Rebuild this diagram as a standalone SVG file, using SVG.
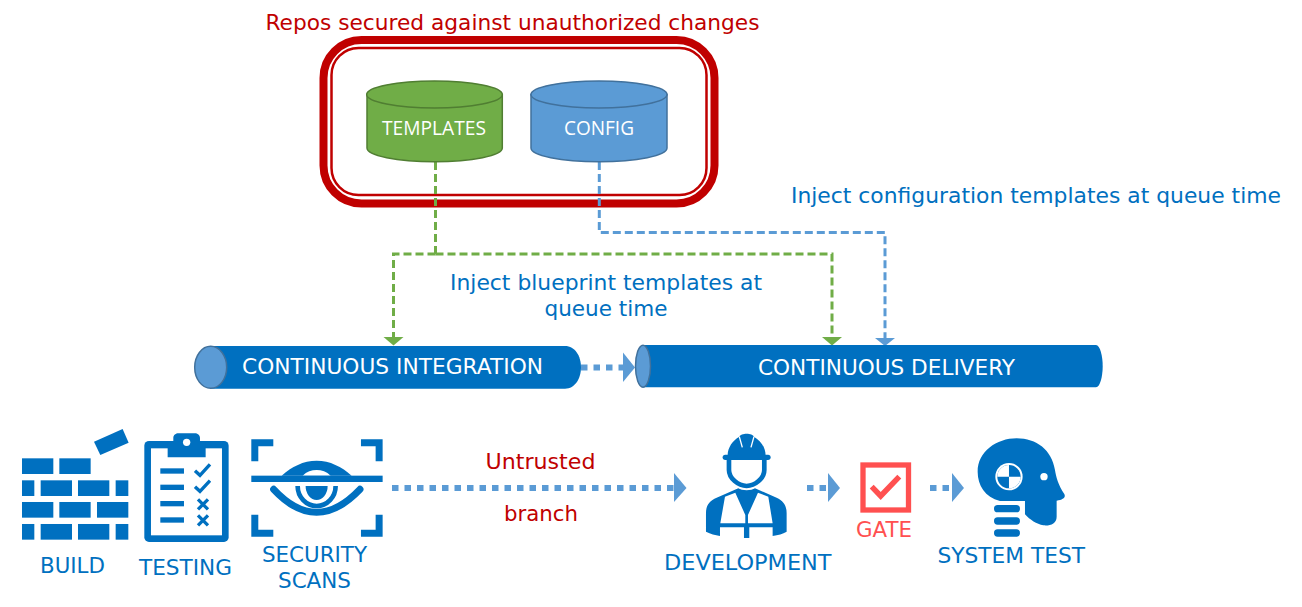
<svg xmlns="http://www.w3.org/2000/svg" width="1302" height="607" viewBox="0 0 1302 607">
<style>
text{font-family:"DejaVu Sans","Liberation Sans",sans-serif}
.red{fill:#C00000;font-size:20.5px}
.lbl{fill:#0070C0;font-size:20.5px}
.cap{fill:#0070C0;font-size:20.5px}
.wht{fill:#fff;font-size:20.5px}
.cal{fill:#fff;font-size:20px;font-family:"Open Sans","Liberation Sans",sans-serif}
.b{fill:#0070C0}
.w{fill:#fff}
.gd{fill:none;stroke:#70AD47;stroke-width:3;stroke-dasharray:8 4}
.bd{fill:none;stroke:#5B9BD5;stroke-width:3;stroke-dasharray:8 4}
.dot{fill:none;stroke:#5B9BD5;stroke-width:6;stroke-dasharray:6.5 6}
.ah{fill:#5B9BD5}
.ag{fill:#70AD47}
.ln{fill:none;stroke:#0070C0}
</style>
<text class="red" x="265.500" y="29.500" textLength="494" lengthAdjust="spacingAndGlyphs">Repos secured against unauthorized changes</text>
<g id="repos-box">
<rect x="323.5" y="40" width="391" height="163.500" rx="38" fill="none" stroke="#C00000" stroke-width="8"/>
<rect x="331.500" y="48" width="375" height="147" rx="27" fill="none" stroke="#C00000" stroke-width="2.500"/>
</g>
<g id="connectors">
<path class="gd" d="M435.500 162V254"/>
<path class="gd" d="M435.500 254H393.500V338"/>
<path class="gd" d="M435.500 254H832V338"/>
<path class="bd" d="M599.300 162V232.500H885V339"/>
<polygon class="ag" points="383.500,337 403.500,337 393.500,345.500"/>
<polygon class="ag" points="822,337 842,337 832,345.500"/>
<polygon class="ah" points="875,338 895,338 885,346"/>
<path class="dot" d="M581 367.500H624"/>
<polygon class="ah" points="623,352.500 635,367.500 623,382"/>
<path class="dot" d="M392 488H674"/>
<polygon class="ah" points="674,473 686.500,488 674,502"/>
<path class="dot" d="M807 488H827"/>
<polygon class="ah" points="828,473 840,488 828,502"/>
<path class="dot" d="M930 488H950"/>
<polygon class="ah" points="952,473 964,488 952,502"/>
</g>
<g id="templates">
<path d="M367 94.500V148C367 155.500 397 161.700 434.500 161.700S502.300 155.500 502.300 148V94.500Z" fill="#70AD47" stroke="#507E32" stroke-width="1.500"/>
<ellipse cx="434.500" cy="94.500" rx="67.800" ry="13.500" fill="#70AD47" stroke="#507E32" stroke-width="1.500"/>
<text class="cal" x="382" y="135" textLength="104" lengthAdjust="spacingAndGlyphs">TEMPLATES</text>
</g>
<g id="config">
<path d="M531 94.500V148C531 155.500 561 161.700 599 161.700S667 155.500 667 148V94.500Z" fill="#5B9BD5" stroke="#41719C" stroke-width="1.500"/>
<ellipse cx="599" cy="94.500" rx="68" ry="13.500" fill="#5B9BD5" stroke="#41719C" stroke-width="1.500"/>
<text class="cal" x="564" y="135" textLength="70" lengthAdjust="spacingAndGlyphs">CONFIG</text>
</g>
<text class="lbl" x="791" y="203" textLength="490" lengthAdjust="spacingAndGlyphs">Inject configuration templates at queue time</text>
<text class="lbl" x="450" y="289.500" textLength="312" lengthAdjust="spacingAndGlyphs">Inject blueprint templates at</text>
<text class="lbl" x="544.500" y="315.500" textLength="123" lengthAdjust="spacingAndGlyphs">queue time</text>
<g id="ci">
<path class="b" d="M211 346H565C575 346 581 356 581 367.300S575 388.700 565 388.700H211Z"/>
<ellipse cx="210.700" cy="367.300" rx="16" ry="21" fill="#5B9BD5" stroke="#41719C" stroke-width="1.500"/>
<text class="wht" x="242" y="373.500" textLength="301" lengthAdjust="spacingAndGlyphs">CONTINUOUS INTEGRATION</text>
</g>
<g id="cd">
<path class="b" d="M643 345H1096C1100 345 1102.700 356 1102.700 366.200S1100 387.300 1096 387.300H643Z"/>
<ellipse cx="643" cy="366.200" rx="7.500" ry="21" fill="#5B9BD5" stroke="#41719C" stroke-width="1.500"/>
<text class="wht" x="758" y="375" textLength="257" lengthAdjust="spacingAndGlyphs">CONTINUOUS DELIVERY</text>
</g>
<g id="build">
<g transform="translate(0,420) scale(0.3333)" class="b">
<rect x="66" y="115" width="94" height="47"/><rect x="178" y="115" width="94" height="47"/>
<rect x="66" y="181" width="37" height="47"/><rect x="122" y="181" width="94" height="47"/><rect x="234" y="181" width="94" height="47"/><rect x="347" y="181" width="38" height="47"/>
<rect x="66" y="246" width="94" height="47"/><rect x="178" y="246" width="94" height="47"/><rect x="291" y="246" width="94" height="47"/>
<rect x="66" y="312" width="37" height="47"/><rect x="122" y="312" width="94" height="47"/><rect x="234" y="312" width="94" height="47"/><rect x="347" y="312" width="38" height="47"/>
<polygon points="282,65 368,27 386,68 301,105"/>
</g>
<text class="cap" x="40" y="573" textLength="65" lengthAdjust="spacingAndGlyphs">BUILD</text>
</g>
<g id="testing">
<g transform="translate(0,420) scale(0.3333)">
<rect class="b" x="433" y="63" width="253" height="303" rx="14"/>
<rect class="w" x="453" y="85" width="213" height="261"/>
<path class="b" d="M503 112V63H520V54C520 45 528 40 535 40H585C592 40 600 45 600 54V63H617V112Z"/>
<circle class="w" cx="560" cy="67" r="11"/>
<g class="b"><rect x="481" y="145" width="71" height="16"/><rect x="481" y="194" width="71" height="16"/><rect x="481" y="243" width="71" height="16"/><rect x="481" y="292" width="71" height="16"/></g>
<path class="ln" stroke-width="10" d="M585 152L600 166L630 133M585 200L600 214L630 182M594 238L624 268M624 238L594 268M594 286L624 316M624 286L594 316"/>
</g>
<text class="cap" x="139" y="574.500" textLength="93" lengthAdjust="spacingAndGlyphs">TESTING</text>
</g>
<g id="security-scans">
<g transform="translate(0,420) scale(0.3333)">
<path class="b" d="M754 58H820V79H775V124H754ZM1148 58H1083V79H1127V124H1148ZM754 350H820V329H775V284H754ZM1148 350H1083V329H1127V284H1148Z"/>
<path class="b" d="M845 167C875 140 910 122 950 122S1025 140 1055 167Z"/>
<path class="w" d="M908 167C920 155 935 150 950 150S980 155 992 167Z"/>
<rect class="b" x="754" y="167" width="394" height="19"/>
<path class="ln" stroke-width="21" stroke-linecap="round" d="M821 208C860 250 900 277 950 277S1040 250 1080 208"/>
<path class="ln" stroke-width="14" d="M893 198A57 60 0 0 0 1007 198"/>
<path class="b" d="M917 198H983A33 42 0 0 1 917 198Z"/>
</g>
<text class="cap" x="262" y="561.500" textLength="105" lengthAdjust="spacingAndGlyphs">SECURITY</text>
<text class="cap" x="278" y="587.500" textLength="73" lengthAdjust="spacingAndGlyphs">SCANS</text>
</g>
<text class="red" x="485.500" y="469" textLength="110" lengthAdjust="spacingAndGlyphs">Untrusted</text>
<text class="red" x="504" y="521" textLength="74" lengthAdjust="spacingAndGlyphs">branch</text>
<g id="development">
<g transform="translate(460,420) scale(0.3333)">
<path class="b" d="M803 107C803 82 818 62 838 50C842 38 878 38 882 50C902 62 917 82 917 107Z"/>
<rect class="b" x="788" y="104" width="144" height="16" rx="8"/>
<path stroke="#fff" stroke-width="4" fill="none" d="M838 50L847 82M882 50L873 82"/>
<path class="ln" stroke-width="14" d="M807 120V150C807 175 835 198 860 198S913 175 913 150V120"/>
<path class="b" d="M835 205L770 233C748 243 738 255 738 280V335C752 342 765 345 780 348V322H852V354H868V322H938V348C955 345 968 342 980 335V280C980 255 970 243 950 233L885 205C875 213 845 213 835 205Z"/>
<path class="w" d="M795 230L826 218L856 285V310H781ZM925 230L894 218L864 285V310H938Z"/>
</g>
<text class="cap" x="664" y="570" textLength="167.500" lengthAdjust="spacingAndGlyphs">DEVELOPMENT</text>
</g>
<g id="gate">
<rect x="863" y="465" width="45.500" height="45" fill="#fff" stroke="#FF5050" stroke-width="5.300"/>
<path d="M871.700 486.700L880.700 496L899.300 476.700" fill="none" stroke="#FF5050" stroke-width="5.500"/>
<text x="856" y="537" textLength="56" lengthAdjust="spacingAndGlyphs" font-size="20.500" fill="#FF5050">GATE</text>
</g>
<g id="system-test">
<g transform="translate(800,420) scale(0.3333)">
<path class="b" d="M600 243C555 232 533 195 533 155C533 95 590 55 650 55C710 55 755 90 765 150C768 170 775 195 793 222C798 232 790 240 770 242V290C770 312 750 318 730 316C710 312 690 300 675 283V243Z"/>
<circle class="w" cx="627" cy="170" r="41"/>
<circle class="b" cx="627" cy="170" r="35"/>
<path class="w" d="M627 170V135A35 35 0 0 0 592 170ZM627 170V205A35 35 0 0 0 662 170Z"/>
<circle class="w" cx="732" cy="170" r="11"/>
<rect class="b" x="582" y="255" width="78" height="22" rx="11"/>
<rect class="b" x="582" y="292" width="78" height="22" rx="11"/>
<rect class="b" x="582" y="328" width="78" height="22" rx="11"/>
</g>
<text class="cap" x="937.500" y="563" textLength="147.500" lengthAdjust="spacingAndGlyphs">SYSTEM TEST</text>
</g>
</svg>
